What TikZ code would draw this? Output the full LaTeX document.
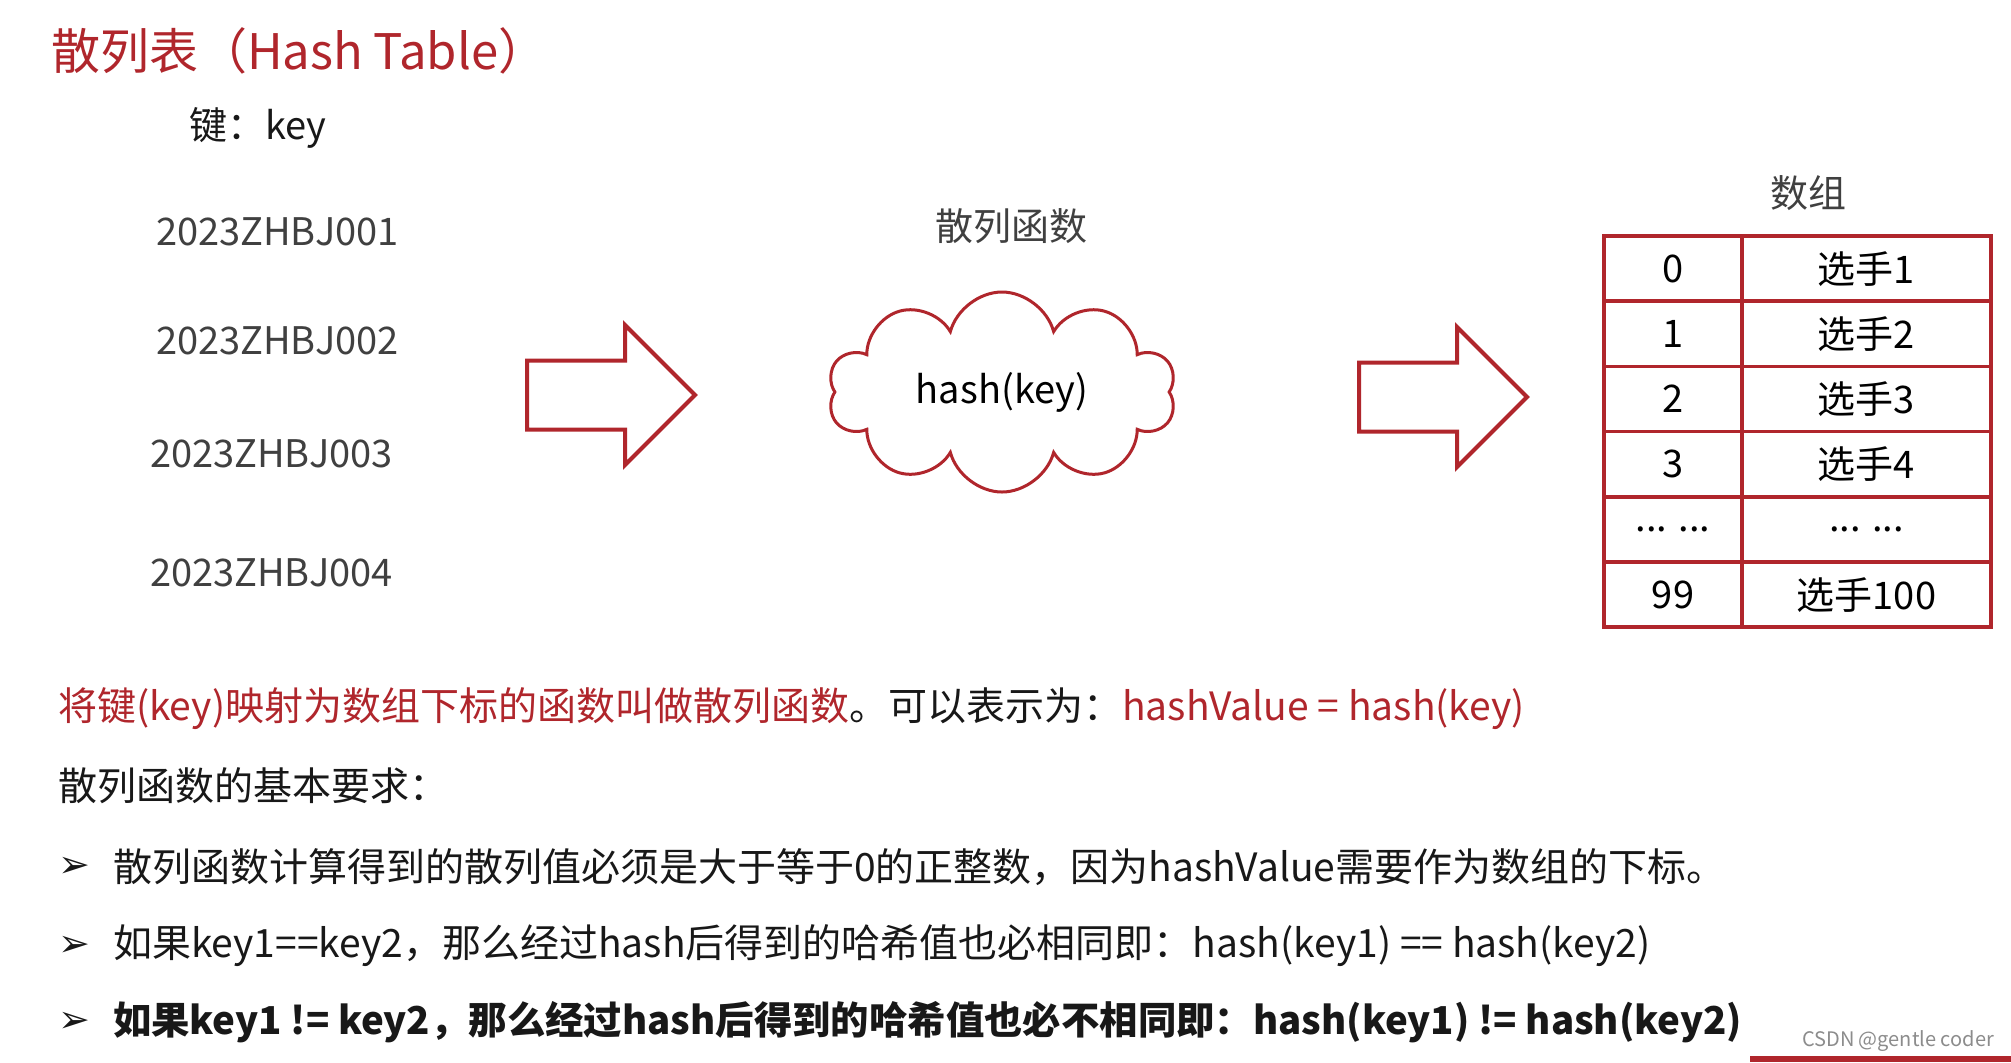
\documentclass[tikz,border=0pt]{standalone}
\usepackage{fontspec}
\setmainfont{Noto Sans CJK SC}
\newfontfamily\bulletfont{DejaVu Sans}
\usepackage{tikz}
\usetikzlibrary{positioning,shapes.arrows,shapes.symbols}
\definecolor{hashred}{RGB}{176,38,44}
\definecolor{txtcol}{RGB}{24,24,24}
\definecolor{keycol}{RGB}{64,64,64}
\newcommand{\bul}{{\bulletfont\fontsize{19pt}{19pt}\selectfont ➢}}

\begin{document}
\begin{tikzpicture}[
  x=0.5pt,y=-0.5pt,
  every node/.style={inner sep=0pt,outer sep=0pt},
  lbl/.style={font=\fontsize{19pt}{19pt}\selectfont,text=keycol},
  line/.style={font=\fontsize{19.5pt}{19.5pt}\selectfont,text=txtcol,anchor=west},
  bigarrow/.style={single arrow,draw=hashred,line width=2pt,fill=white,inner xsep=0pt,
    inner ysep=16.25pt,minimum height=84pt,single arrow head extend=17.75pt,anchor=tail},
  cell/.style={draw=hashred,line width=1.8pt,minimum height=32.6pt,
    font=\fontsize{19pt}{19pt}\selectfont,text=black},
  idx/.style={cell,minimum width=69pt},
  val/.style={cell,minimum width=124.5pt}]

\useasboundingbox[fill=white] (0,0) rectangle (2011,1062);

% heading
\node[anchor=west,font=\fontsize{24.5pt}{24.5pt}\selectfont,text=hashred] (title) at (51,51) {散列表（Hash Table）};
\node[lbl,anchor=west,text=txtcol] (keyhead) at (189,128) {键：key};

% keys
\node[lbl,anchor=west] (k1) at (156,232) {2023ZHBJ001};
\node[lbl,anchor=west] (k2) at (156,341) {2023ZHBJ002};
\node[lbl,anchor=west] (k3) at (150,454) {2023ZHBJ003};
\node[lbl,anchor=west] (k4) at (150,573) {2023ZHBJ004};

% hash function
\node[bigarrow] (a1) at (527,395) {};
\node[cloud,draw=hashred,line width=1.5pt,cloud puffs=10,aspect=1.75,
  minimum width=174pt,minimum height=100pt,font=\fontsize{19pt}{19pt}\selectfont] (hashfn) at (1002,392) {hash(key)};
\node[lbl] (fnlab) at (1011,226) {散列函数};
\node[bigarrow] (a2) at (1359,397) {};

% array
\node[lbl] (arrlab) at (1808,193) {数组};
\node[idx] (i0) at (1673,268.6) {0};
\node[val,right=0pt of i0] (v0) {选手1};
\node[idx,below=0pt of i0] (i1) {1};
\node[val,right=0pt of i1] (v1) {选手2};
\node[idx,below=0pt of i1] (i2) {2};
\node[val,right=0pt of i2] (v2) {选手3};
\node[idx,below=0pt of i2] (i3) {3};
\node[val,right=0pt of i3] (v3) {选手4};
\node[idx,below=0pt of i3] (i4) {... ...};
\node[val,right=0pt of i4] (v4) {... ...};
\node[idx,below=0pt of i4] (i5) {99};
\node[val,right=0pt of i5] (v5) {选手100};

% text below
\node[line,text=hashred] (def) at (58,709) {将键(key)映射为数组下标的函数叫做散列函数\textcolor{txtcol}{。可以表示为：}hashValue = hash(key)};
\node[line] (req) at (58,786) {散列函数的基本要求：};
\node[line] (b1) at (58,867) {\bul};
\node[line] (r1) at (113,867) {散列函数计算得到的散列值必须是大于等于0的正整数，因为hashValue需要作为数组的下标。};
\node[line] (b2) at (58,946) {\bul};
\node[line] (r2) at (113,946) {如果key1==key2，那么经过hash后得到的哈希值也必相同即：hash(key1) == hash(key2)};
\node[line] (b3) at (58,1022) {\bul};
\node[line,font=\fontsize{19.2pt}{19.2pt}\selectfont\bfseries] (r3) at (113,1022) {如果key1 != key2，那么经过hash后得到的哈希值也必不相同即：hash(key1) != hash(key2)};

% footer
\node[anchor=east,font=\fontsize{10pt}{10pt}\selectfont,text=black!45] (mark) at (1994,1041) {CSDN @gentle coder};
\fill[hashred] (1750,1056) rectangle (2011,1062);
\end{tikzpicture}
\end{document}
